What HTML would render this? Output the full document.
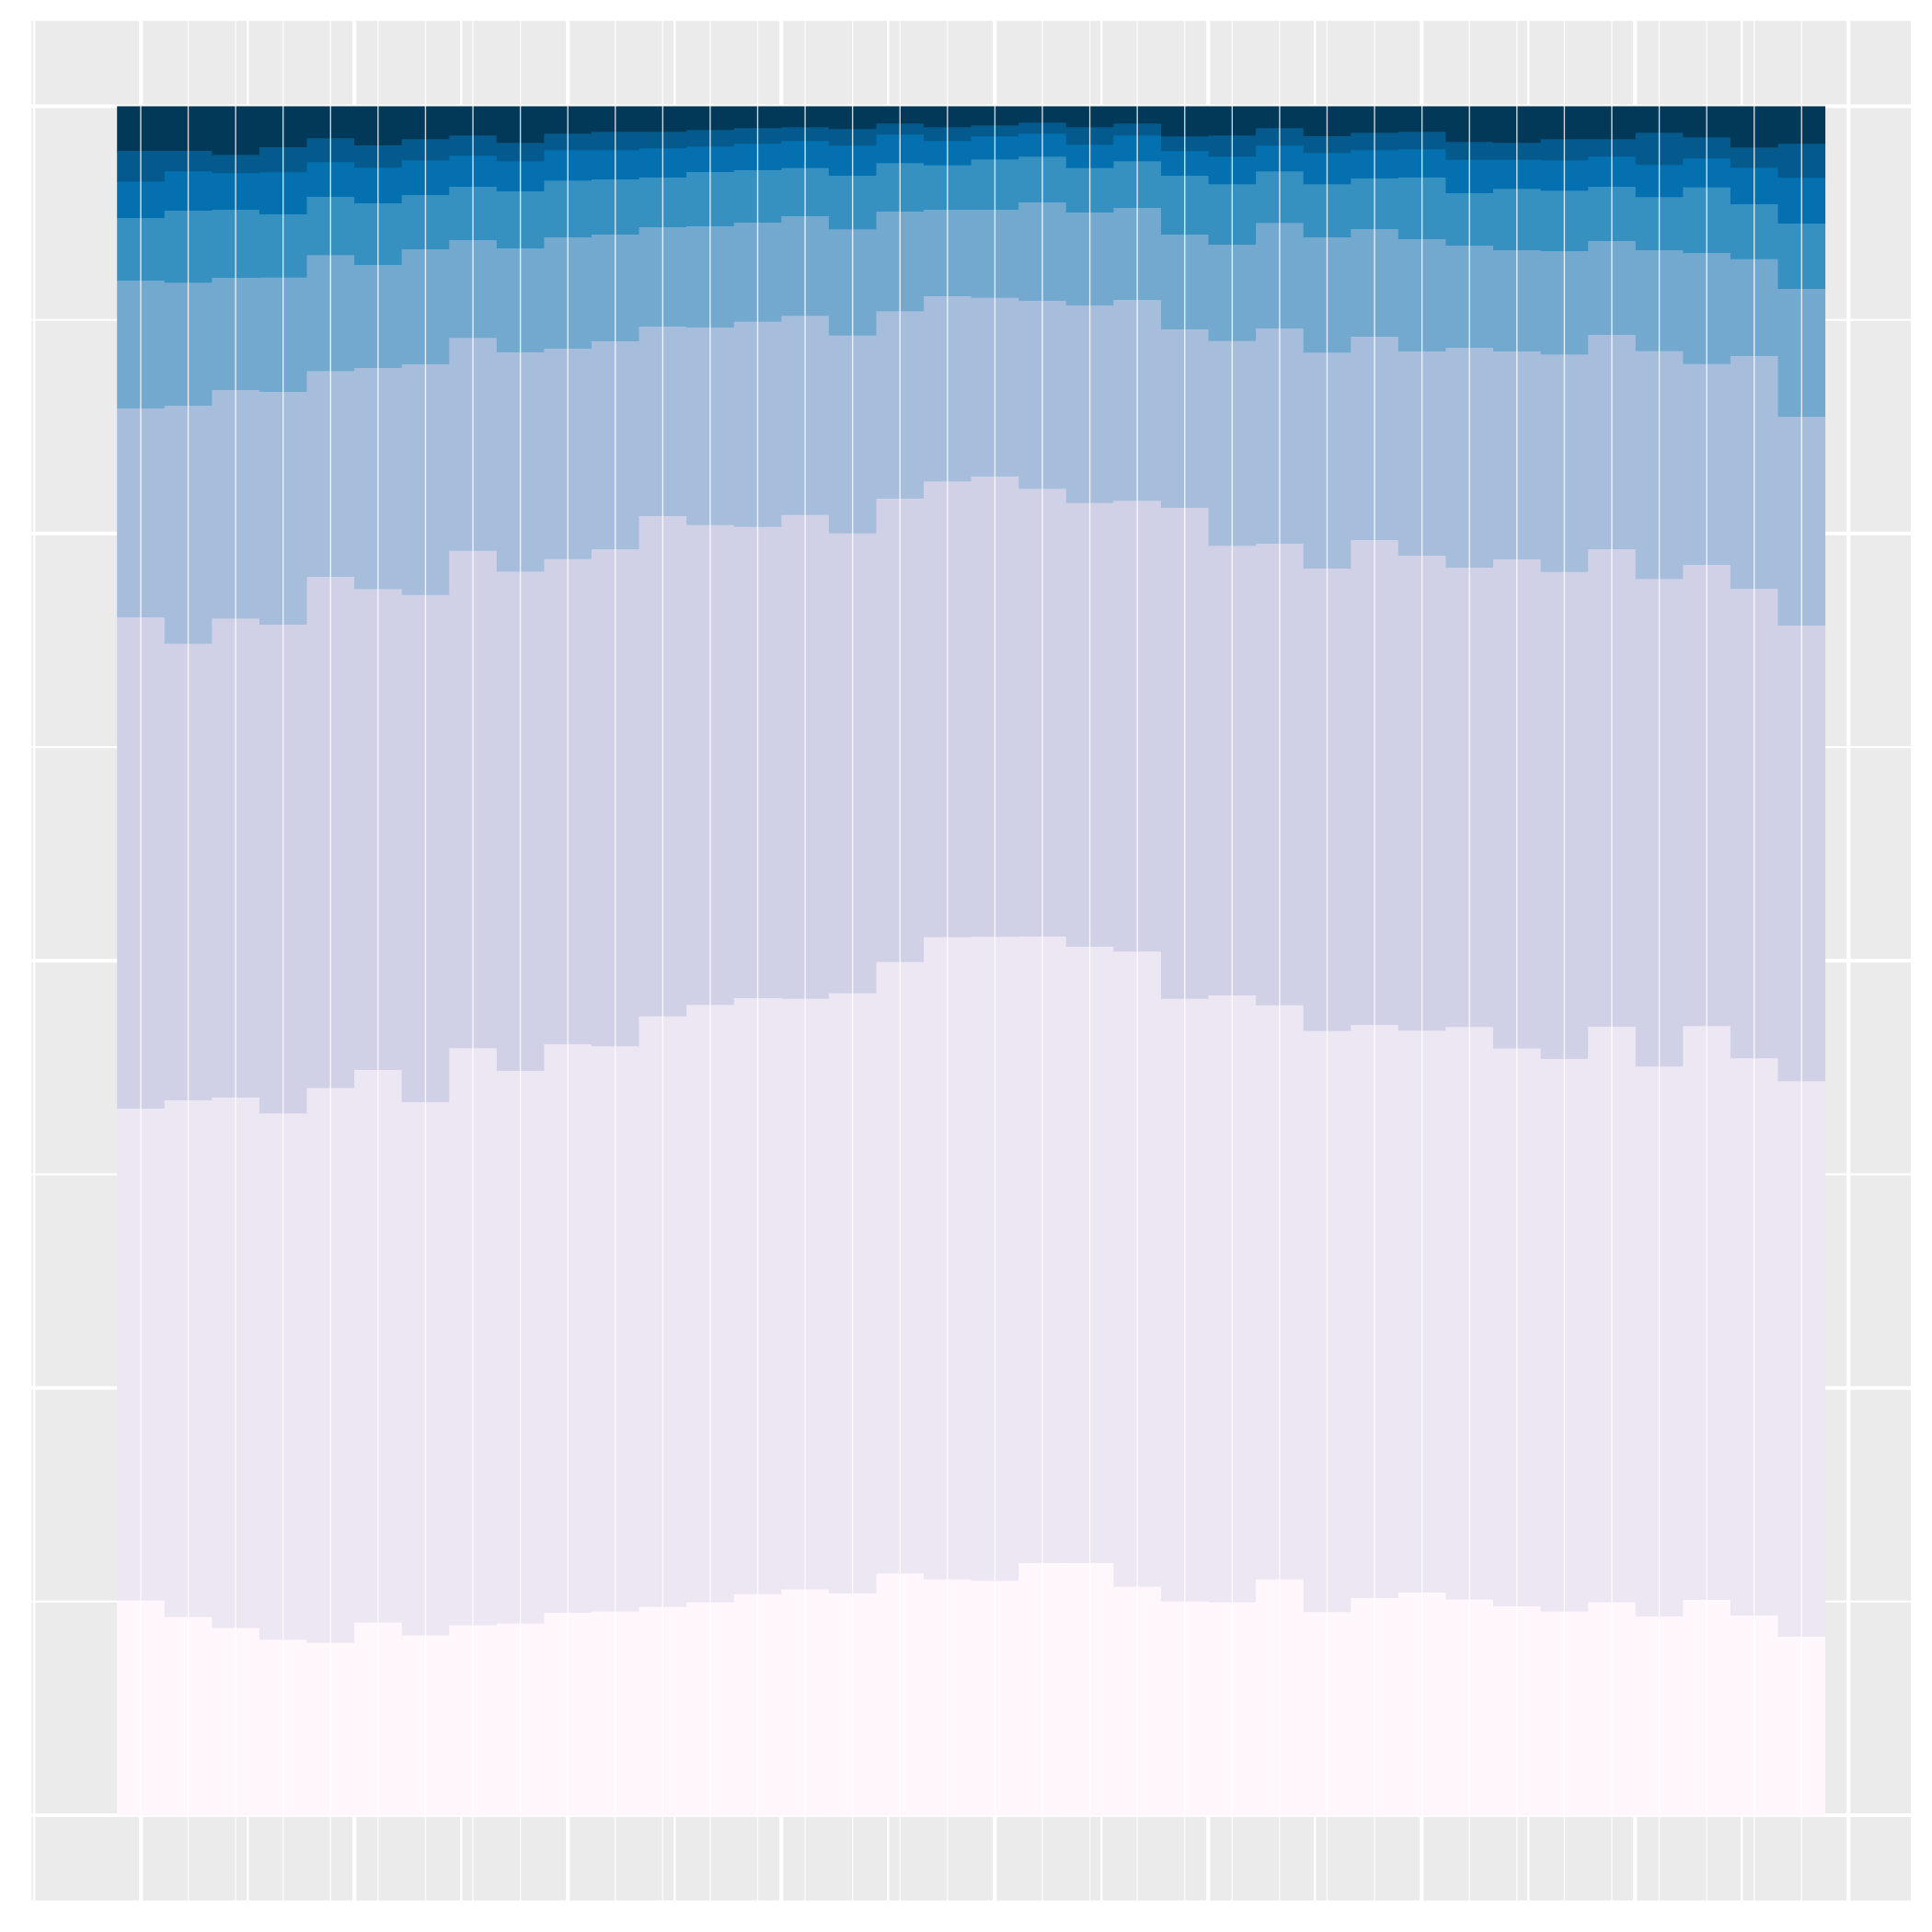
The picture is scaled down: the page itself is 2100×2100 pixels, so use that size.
<!DOCTYPE html>
<html lang="en">
<head>
<meta charset="utf-8">
<title>Stacked proportion histogram</title>
<style>
html,body{margin:0;padding:0;background:#ffffff;}
#chart{display:block;width:2100px;height:2100px;}
</style>
</head>
<body>
<svg id="chart" xmlns="http://www.w3.org/2000/svg" width="2100" height="2100" viewBox="0 0 2100 2100">
<rect x="0" y="0" width="2100" height="2100" fill="#ffffff"></rect>
<rect x="34.3" y="22.7" width="2042.7" height="2043" fill="#ebebeb"></rect>
<g id="grid"></g>
<g id="bars"></g>
<g id="centers"></g>
</svg>
<script>
const categories = [1,2,3,4,5,6,7,8,9,10,11,12,13,14,15,16,17,18,19,20,21,22,23,24,25,26,27,28,29,30,31,32,33,34,35,36];
const totalCount = 1857.5;
const band1Top = [233.3,215.3,203.3,190.7,187.3,209.3,195.3,206.3,208.3,220,221.3,226.3,231.3,240.3,245.3,241,262.7,256.3,254.7,274,274,248.3,232.3,231.3,256.3,220.7,236,242,234.3,227,221.3,231.3,216,234,217,194];
const band2Top = [768,777,780,762.7,790.3,810,775,833.7,809,838,835.7,868.3,880.7,888,887.3,893.3,927.3,954.3,954.7,955,944,938.7,887.3,891,880.3,852.3,859,852.7,856.7,833.3,822,857,813.7,857.7,822.7,797.7];
const band3Top = [1302,1273.3,1300.7,1294,1346,1332.7,1326.3,1374.3,1351.7,1365.3,1376,1412,1402.3,1400.3,1413.3,1393.3,1431,1449.7,1455,1441.7,1426.3,1428.7,1421,1379.7,1382,1355,1386,1369,1356,1365,1351.3,1376,1343.7,1359,1333,1293];
const band4Top = [1529,1532,1549,1547,1569.7,1573,1577,1605.7,1590,1594,1602,1618,1617,1623.3,1629.7,1608.3,1634.7,1651,1649.3,1646,1641,1647,1615,1602.3,1616,1589.7,1607,1591,1595,1591,1587.7,1609,1591.3,1577.3,1586,1520];
const band5Top = [1668,1665.7,1671,1671.3,1695.7,1685,1702,1712,1703,1715,1718,1726,1727,1731,1738,1723.7,1743,1745,1745,1753,1742,1747,1718,1707,1730.7,1715,1724,1713,1706,1701,1700,1711,1701,1698,1691.3,1659];
const band6Top = [1736,1744,1745,1740,1759,1752,1761,1770,1765,1776.7,1778,1780,1786,1788,1790.3,1782,1795.7,1793.3,1799.7,1802.7,1790.3,1797.7,1782,1772.7,1786.7,1772.7,1779,1780,1763,1767.7,1765.7,1770,1758.7,1769.3,1751,1730];
const band7Top = [1775.7,1786.7,1784.7,1785.7,1796.7,1790.7,1798.7,1803.7,1797.7,1809.7,1809.7,1811.7,1813.7,1816.7,1819.7,1814.7,1826.7,1819.7,1824.7,1827.7,1815.7,1825.7,1808.7,1802.7,1814.7,1806.7,1809.7,1810.7,1799.3,1799.3,1798.7,1802.7,1793.7,1800.7,1790.7,1779.7];
const band8Top = [1809,1809,1804.7,1813,1822.7,1815,1821.7,1825.7,1817.7,1827.7,1829.7,1829.7,1831.7,1833.7,1834.7,1832.7,1838.7,1834.7,1836.7,1839.7,1834.7,1838.7,1824.7,1825.7,1833.7,1825,1828.7,1829.7,1818.7,1817.7,1821.7,1821.7,1828.7,1823.7,1812.7,1816.7];
const bandColors = ['#fff7fb','#ece7f2','#d0d1e6','#a6bddb','#74a9cf','#3690c0','#0570b0','#045a8d','#023858'];

const SVG_NS = 'http://www.w3.org/2000/svg';
const barWidth = 51.58;
const xStart = 127.2;
const yBase = 1973;
function xScale(binIndex) { return xStart + barWidth * binIndex; }
function yScale(count) { return yBase - count; }

function makeLine(parent, x1, y1, x2, y2, width, opacity) {
  const line = document.createElementNS(SVG_NS, 'line');
  line.setAttribute('x1', x1);
  line.setAttribute('y1', y1);
  line.setAttribute('x2', x2);
  line.setAttribute('y2', y2);
  line.setAttribute('stroke', '#ffffff');
  line.setAttribute('stroke-width', width);
  line.setAttribute('stroke-opacity', opacity);
  parent.appendChild(line);
  return line;
}

const gridGroup = document.getElementById('grid');
for (let k = 0; k <= 8; k++) {
  const yPos = yScale(totalCount * k / 8);
  const hLine = makeLine(gridGroup, 34.3, yPos, 2077, yPos, k % 2 === 0 ? 4 : 2.2, 1);
  
  
}
for (let k = 0; k <= 17; k++) {
  const xPos = xScale(-1.745 + 2.249 * k);
  const vLine = makeLine(gridGroup, xPos, 22.7, xPos, 2065.7, k % 2 === 1 ? 4.2 : 2.4, 1);
  
  
}

const barsGroup = document.getElementById('bars');
const stackedTops = [band1Top, band2Top, band3Top, band4Top, band5Top, band6Top, band7Top, band8Top];
const lastBin = categories.length - 1;
categories.forEach(function (category, i) {
  for (let b = bandColors.length - 1; b >= 0; b--) {
    const upper = b < stackedTops.length ? stackedTops[b][i] : totalCount;
    const lower = b > 0 ? stackedTops[b - 1][i] : 0;
    const rect = document.createElementNS(SVG_NS, 'rect');
    rect.setAttribute('x', xScale(i));
    rect.setAttribute('y', yScale(upper));
    rect.setAttribute('width', i < lastBin ? barWidth + 0.8 : barWidth);
    rect.setAttribute('height', upper - lower + (b > 0 ? 0.8 : 0));
    rect.setAttribute('fill', bandColors[b]);
    
    
    barsGroup.appendChild(rect);
  }
});

const centersGroup = document.getElementById('centers');
categories.forEach(function (category, i) {
  const xMid = xScale(i + 0.5);
  const centerLine = makeLine(centersGroup, xMid, 22.7, xMid, 2065.7, 1.4, 0.8);
  
  
});
</script>
</body>
</html>
